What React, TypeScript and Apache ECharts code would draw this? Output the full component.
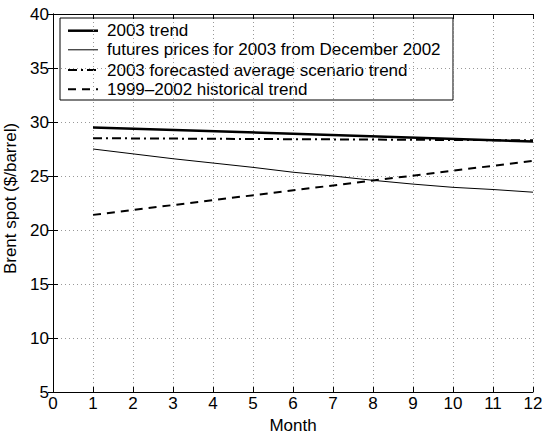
import React, { useEffect, useRef } from "react";
import * as echarts from "echarts";

const trendMonths = [1, 12];
const trend2003 = [29.5, 28.2];
const futuresMonths = [1, 2, 3, 4, 5, 6, 7, 8, 9, 10, 11, 12];
const futures2003 = [27.5, 27.05, 26.6, 26.2, 25.8, 25.35, 25.0, 24.6, 24.25, 23.95, 23.75, 23.5];
const forecast2003 = [28.5, 28.3];
const historical = [21.4, 26.4];
const seriesNames = [
  "2003 trend",
  "futures prices for 2003 from December 2002",
  "2003 forecasted average scenario trend",
  "1999\u20132002 historical trend",
];

const FONT = "Liberation Sans, Arial, Helvetica, sans-serif";
const FS = 17;

const lineStyles = [
  { width: 2.5, dash: null as number[] | null },
  { width: 1, dash: null as number[] | null },
  { width: 2, dash: [9, 4, 2, 4] },
  { width: 2, dash: [8, 6] },
];

export default function App() {
  const ref = useRef<HTMLDivElement>(null);
  useEffect(() => {
    if (!ref.current) return;
    const chart = echarts.init(ref.current, undefined, { renderer: "svg" });
    const pair = (xs: number[], ys: number[]) => xs.map((x, i) => [x, ys[i]]);
    const axisCommon = {
      axisLine: { show: true, lineStyle: { color: "#000", width: 1 } },
      axisTick: { show: true, inside: true, length: 5, lineStyle: { color: "#000" } },
    };
    const seriesData = [
      pair(trendMonths, trend2003),
      pair(futuresMonths, futures2003),
      pair(trendMonths, forecast2003),
      pair(trendMonths, historical),
    ];
    const rowY = [30.7, 49.8, 70, 89.3];
    const legendChildren: any[] = [
      {
        type: "rect",
        shape: { x: 60, y: 18, width: 393, height: 82 },
        style: { fill: "#fff", stroke: "#000", lineWidth: 1 },
      },
    ];
    seriesNames.forEach((name, i) => {
      legendChildren.push({
        type: "line",
        shape: { x1: 68, y1: rowY[i], x2: 98, y2: rowY[i] },
        style: {
          stroke: "#000",
          lineWidth: lineStyles[i].width,
          lineDash: lineStyles[i].dash || undefined,
        },
      });
      legendChildren.push({
        type: "text",
        x: 107,
        y: rowY[i],
        style: {
          text: name,
          fontFamily: FONT,
          fontSize: FS,
          fill: "#000",
          verticalAlign: "middle",
          align: "left",
        },
      });
    });
    chart.setOption({
      animation: false,
      backgroundColor: "#fff",
      textStyle: { fontFamily: FONT },
      grid: {
        left: 53,
        right: 9,
        top: 14,
        bottom: 44,
        containLabel: false,
        outerBoundsMode: "none",
      },
      xAxis: [
        {
          type: "value",
          min: 0,
          max: 12,
          interval: 1,
          position: "bottom",
          name: "Month",
          nameLocation: "middle",
          nameGap: 22,
          nameTextStyle: { fontFamily: FONT, fontSize: FS, color: "#000" },
          ...axisCommon,
          axisLabel: { fontFamily: FONT, fontSize: FS, color: "#000", margin: 3 },
          splitLine: { show: true, lineStyle: { color: "#999", type: [1, 3], width: 1 } },
        },
        {
          type: "value",
          min: 0,
          max: 12,
          interval: 1,
          position: "top",
          ...axisCommon,
          axisLabel: { show: false },
          splitLine: { show: false },
        },
      ],
      yAxis: [
        {
          type: "value",
          min: 5,
          max: 40,
          interval: 5,
          position: "left",
          name: "Brent spot ($/barrel)",
          nameLocation: "middle",
          nameGap: 21,
          nameRotate: 90,
          nameTextStyle: {
            fontFamily: FONT,
            fontSize: FS,
            color: "#000",
            padding: [0, 0, 0, 9],
          },
          ...axisCommon,
          axisLabel: { fontFamily: FONT, fontSize: FS, color: "#000", margin: 4 },
          splitLine: { show: true, lineStyle: { color: "#999", type: [1, 3], width: 1 } },
        },
        {
          type: "value",
          min: 5,
          max: 40,
          interval: 5,
          position: "right",
          ...axisCommon,
          axisLabel: { show: false },
          splitLine: { show: false },
        },
      ],
      graphic: [{ type: "group", children: legendChildren }],
      series: seriesNames.map((name, i) => ({
        name,
        type: "line",
        symbol: "none",
        data: seriesData[i],
        lineStyle: {
          color: "#000",
          width: lineStyles[i].width,
          type: lineStyles[i].dash || "solid",
        },
        itemStyle: { color: "#000" },
      })),
    });
    return () => chart.dispose();
  }, []);
  return (
    <div
      ref={ref}
      style={{ position: "absolute", left: 0, top: 0, width: 542, height: 436 }}
    />
  );
}
